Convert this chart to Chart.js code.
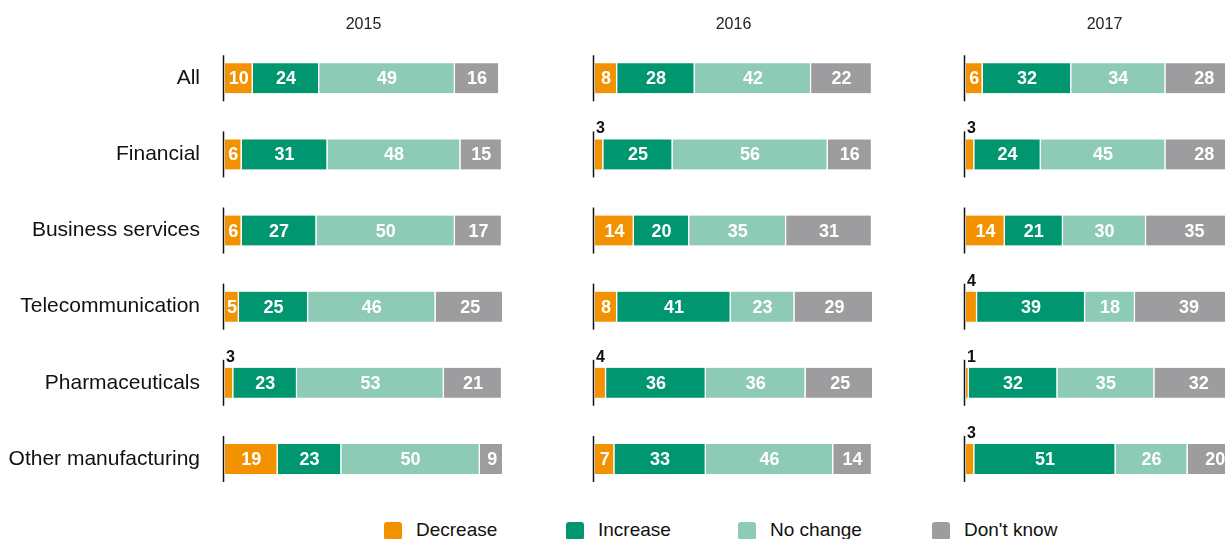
<!DOCTYPE html>
<html>
<head>
<meta charset="utf-8">
<script src="https://cdn.jsdelivr.net/npm/chart.js@4"></script>
<style>
  html, body { margin: 0; padding: 0; background: #fff; overflow: hidden; }
  body { width: 1225px; height: 539px; position: relative; }
  .panel { position: absolute; top: 0; }
  .legend { position: absolute; top: 520px; font-family: 'Liberation Sans', Arial, sans-serif; font-size: 19px; line-height: 1; color: #111; }
  .legend span.box { position: absolute; left: 0; top: 2px; width: 18px; height: 18px; border-radius: 3px; }
  .legend span.txt { position: absolute; left: 32px; top: 0; white-space: nowrap; }
</style>
</head>
<body>
<div class="panel" style="left:0px"><canvas id="c0" width="502" height="500"></canvas></div>
<div class="panel" style="left:585px"><canvas id="c1" width="287" height="500"></canvas></div>
<div class="panel" style="left:956px"><canvas id="c2" width="287" height="500"></canvas></div>
<div id="legend"></div>

<script>
// categories and years
const categories = ["All", "Financial", "Business services", "Telecommunication", "Pharmaceuticals", "Other manufacturing"];
const years = ["2015", "2016", "2017"];
const seriesNames = ["Decrease", "Increase", "No change", "Don't know"];
const seriesColors = ["#f39200", "#009670", "#8ecbb6", "#9d9d9f"];

// values per year (index 0 = 2015, 1 = 2016, 2 = 2017), in category order
const decrease = [
  [10, 6, 6, 5, 3, 19],
  [8, 3, 14, 8, 4, 7],
  [6, 3, 14, 4, 1, 3]
];
const increase = [
  [24, 31, 27, 25, 23, 23],
  [28, 25, 20, 41, 36, 33],
  [32, 24, 21, 39, 32, 51]
];
const noChange = [
  [49, 48, 50, 46, 53, 50],
  [42, 56, 35, 23, 36, 46],
  [34, 45, 30, 18, 35, 26]
];
const dontKnow = [
  [16, 15, 17, 25, 21, 9],
  [22, 16, 31, 29, 25, 14],
  [28, 28, 35, 39, 32, 20]
];

const FONT = "'Liberation Sans', Arial, sans-serif";

/* axis stub next to each bar + value labels */
const barDecor = {
  id: "barDecor",
  afterDatasetsDraw(chart) {
    const ctx = chart.ctx;
    const area = chart.chartArea;
    ctx.save();

    const first = chart.getDatasetMeta(0);
    ctx.strokeStyle = "#111";
    ctx.lineWidth = 1.5;
    first.data.forEach(bar => {
      ctx.beginPath();
      ctx.moveTo(area.left - 1.5, bar.y - 23);
      ctx.lineTo(area.left - 1.5, bar.y + 23);
      ctx.stroke();
    });

    chart.data.datasets.forEach((ds, i) => {
      const meta = chart.getDatasetMeta(i);
      meta.data.forEach((bar, j) => {
        const v = ds.data[j];
        if (v >= 5) {
          ctx.font = "bold 18px " + FONT;
          ctx.fillStyle = "#fff";
          ctx.textAlign = "center";
          ctx.textBaseline = "middle";
          ctx.fillText(String(v), (bar.x + bar.base) / 2, bar.y + 1);
        } else {
          // too small for the bar: write it above, at the axis
          ctx.font = "bold 16px " + FONT;
          ctx.fillStyle = "#111";
          ctx.textAlign = "left";
          ctx.textBaseline = "alphabetic";
          ctx.fillText(String(v), area.left + 1, bar.y - bar.height / 2 - 6);
        }
      });
    });
    ctx.restore();
  }
};

function makePanel(idx) {
  const showLabels = idx === 0;
  const ctx = document.getElementById("c" + idx);
  const values = [decrease[idx], increase[idx], noChange[idx], dontKnow[idx]];

  new Chart(ctx, {
    type: "bar",
    data: {
      labels: categories,
      datasets: values.map((vals, k) => ({
        label: seriesNames[k],
        data: vals,
        backgroundColor: seriesColors[k],
        borderColor: "#ffffff",
        borderWidth: { top: 0, bottom: 0, left: 0, right: 1.5 },
        borderSkipped: false,
        barThickness: 30
      }))
    },
    options: {
      indexAxis: "y",
      responsive: false,
      animation: false,
      events: [],
      layout: { padding: { top: 0, right: 0, bottom: 3, left: 0 } },
      plugins: {
        legend: { display: false },
        tooltip: { enabled: false },
        title: {
          display: true,
          text: years[idx],
          fullSize: false,
          color: "#222",
          font: { family: FONT, size: 16, weight: "normal" },
          padding: { top: 15, bottom: 6 }
        }
      },
      scales: {
        x: {
          stacked: true,
          min: 0,
          max: 100,
          display: false
        },
        y: {
          stacked: true,
          // tickLength gives the gap between labels and bars (ticks.padding would also pad top/bottom)
          grid: { display: false, drawTicks: true, tickLength: 25 },
          border: { display: false },
          ticks: {
            display: showLabels,
            color: "#111",
            padding: 0,
            // small lineHeight so the labels don't shrink the plot vertically
            font: { family: FONT, size: 21, lineHeight: 0.25 }
          },
          afterFit(scale) {
            scale.width = showLabels ? 225 : 10;
          }
        }
      }
    },
    plugins: [barDecor]
  });
}

years.forEach((_, i) => makePanel(i));

// legend
const legendLeft = [384, 566, 738, 932];
const legend = document.getElementById("legend");
seriesNames.forEach((name, k) => {
  const item = document.createElement("div");
  item.className = "legend";
  item.style.left = legendLeft[k] + "px";
  item.innerHTML = '<span class="box" style="background:' + seriesColors[k] + '"></span><span class="txt">' + name + '</span>';
  legend.appendChild(item);
});
</script>
</body>
</html>
